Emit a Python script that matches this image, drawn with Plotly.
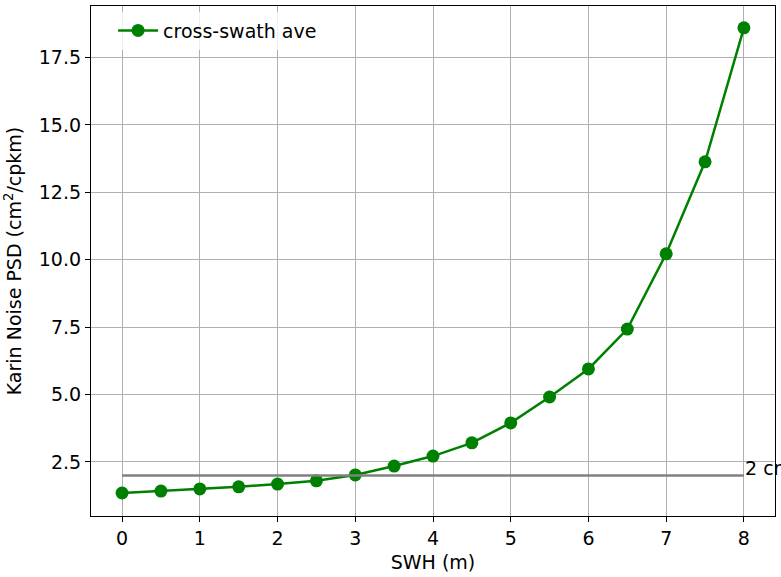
import plotly.graph_objects as go

swh = [0, 0.5, 1, 1.5, 2, 2.5, 3, 3.5, 4, 4.5, 5, 5.5, 6, 6.5, 7, 7.5, 8]
psd = [1.35, 1.42, 1.50, 1.58, 1.68, 1.80, 2.02, 2.35, 2.72, 3.21, 3.95, 4.91, 5.95, 7.43, 10.22, 13.63, 18.6]
ref_x = [0, 8]
ref_y = [2, 2]
ref_label = "2 cm"
xticks = [0, 1, 2, 3, 4, 5, 6, 7, 8]
yticks = [2.5, 5.0, 7.5, 10.0, 12.5, 15.0, 17.5]

font = dict(family="DejaVu Sans", size=19, color="black")

fig = go.Figure()
fig.add_trace(go.Scatter(x=swh, y=psd, mode="lines+markers", name="cross-swath ave",
                         line=dict(color="green", width=2.5),
                         marker=dict(color="green", size=13)))
fig.add_trace(go.Scatter(x=ref_x, y=ref_y, mode="lines", showlegend=False,
                         line=dict(color="gray", width=2.5)))
fig.add_annotation(x=ref_x[-1], y=ref_y[-1], text=ref_label, showarrow=False,
                   xanchor="left", yanchor="bottom", xshift=-1, yshift=-6,
                   font=font)

axis_common = dict(showline=True, linecolor="black", linewidth=1.2, mirror=True,
                   ticks="outside", ticklen=5, tickcolor="black",
                   showgrid=True, gridcolor="#b0b0b0", gridwidth=1.2,
                   zeroline=False, tickfont=font, automargin=False)
fig.update_layout(
    width=781, height=577,
    margin=dict(l=91, r=6, t=6, b=61),
    plot_bgcolor="white", paper_bgcolor="white",
    font=font,
    xaxis=dict(range=[-0.4, 8.4], tickvals=xticks, ticktext=[str(t) for t in xticks],
               title=dict(text="SWH (m)", font=font, standoff=7), **axis_common),
    yaxis=dict(range=[0.497, 19.41], tickvals=yticks, ticktext=[f"{t:.1f}" for t in yticks],
               title=dict(text="Karin Noise PSD (cm<sup>2</sup>/cpkm)", font=font, standoff=12),
               **axis_common),
    legend=dict(x=0.0323, y=0.989, xanchor="left", yanchor="top", bgcolor="rgba(255,255,255,0.8)",
                font=font, itemwidth=40),
    showlegend=True,
)
fig.write_html("out.html")
